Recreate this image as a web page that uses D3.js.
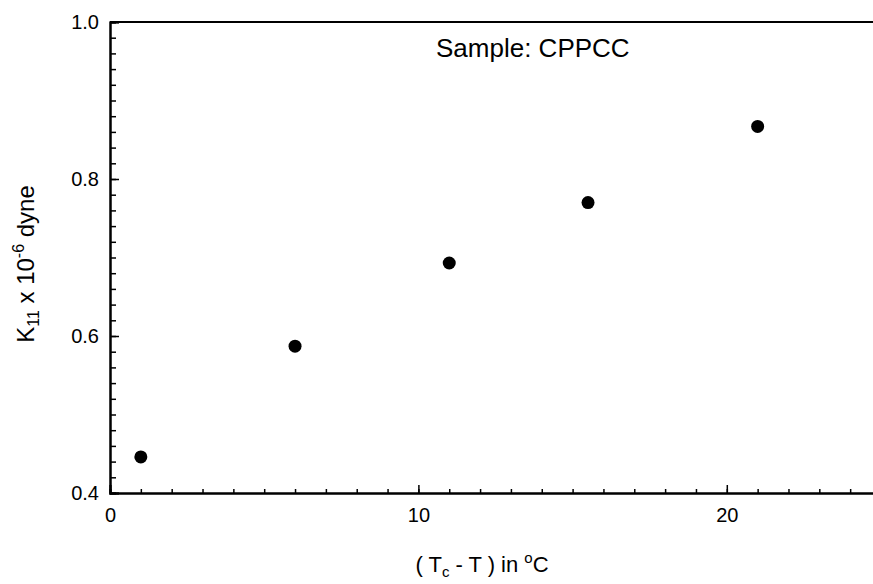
<!DOCTYPE html>
<html>
<head>
<meta charset="utf-8">
<script src="https://cdn.jsdelivr.net/npm/d3@7"></script>
<style>
	body { margin: 0; background: #fff; }
	text { font-family: "Liberation Sans", Arial, sans-serif; fill: #000; }
</style>
</head>
<body>
<div id="chart"></div>
<script>

// data
const temp_diff = [1, 6, 11, 15.5, 21]
const k11 = [0.446, 0.587, 0.693, 0.770, 0.867]

const x_ticks = [0, 10, 20]
const x_minor = d3.range(0, 26, 1)
const y_ticks = [0.4, 0.6, 0.8, 1.0]
const y_minor = d3.range(0.40, 1.001, 0.02)

const width = 873, height = 584

const svg = d3.select("#chart").append("svg")
	.attr("width", width)
	.attr("height", height)

// scales (right end of the frame runs off the picture)
const x = d3.scaleLinear()
	.domain([0, 25])
	.range([110, 881])

const y = d3.scaleLinear()
	.domain([0.4, 1.0])
	.range([493, 22])

// minor ticks first, then major ticks with labels
svg.append("g")
	.attr("transform", "translate(0," + y(0.4) + ")")
	.call(d3.axisBottom(x).tickValues(x_minor).tickSize(-4).tickFormat(""))
svg.append("g")
	.attr("class", "x-axis")
	.attr("transform", "translate(0," + y(0.4) + ")")
	.call(d3.axisBottom(x).tickValues(x_ticks).tickSize(-8).tickPadding(15).tickFormat(d3.format("d")))

svg.append("g")
	.attr("transform", "translate(" + x(0) + ",0)")
	.call(d3.axisLeft(y).tickValues(y_minor).tickSize(-6).tickFormat(""))
svg.append("g")
	.attr("class", "y-axis")
	.attr("transform", "translate(" + x(0) + ",0)")
	.call(d3.axisLeft(y).tickValues(y_ticks).tickSize(-9).tickPadding(11).tickFormat(d3.format(".1f")))

svg.selectAll(".domain").attr("stroke-width", 2)
svg.selectAll(".tick line").attr("stroke-width", 1.5)
svg.selectAll(".tick text").style("font-size", "20px").attr("font-family", null)

// top border
svg.append("path")
	.attr("d", `M${x(0)},${y(1.0)} H${width}`)
	.attr("stroke", "#000")
	.attr("stroke-width", 2)

// points
svg.append("g")
	.selectAll("circle")
	.data(temp_diff)
	.enter()
	.append("circle")
		.attr("cx", d => x(d))
		.attr("cy", (d, i) => y(k11[i]))
		.attr("r", 6.5)
		.attr("fill", "#000")

// sample label
svg.append("text")
	.attr("x", 436)
	.attr("y", 57)
	.style("font-size", "26px")
	.text("Sample: CPPCC")

// x axis title
const xlab = svg.append("text")
	.attr("text-anchor", "middle")
	.attr("x", 482)
	.attr("y", 572)
	.style("font-size", "22px")
xlab.append("tspan").text("( T")
xlab.append("tspan").attr("dy", 5).style("font-size", "15px").text("c")
xlab.append("tspan").attr("dy", -5).text(" - T ) in ")
xlab.append("tspan").attr("dy", -9).style("font-size", "15px").text("o")
xlab.append("tspan").attr("dy", 9).text("C")

// y axis title
const ylab = svg.append("text")
	.attr("text-anchor", "middle")
	.attr("transform", "translate(34,264) rotate(-90)")
	.style("font-size", "24px")
ylab.append("tspan").text("K")
ylab.append("tspan").attr("dy", 5).style("font-size", "16px").text("11")
ylab.append("tspan").attr("dy", -5).text(" x 10")
ylab.append("tspan").attr("dy", -10).style("font-size", "16px").text("-6")
ylab.append("tspan").attr("dy", 10).text(" dyne")

</script>
</body>
</html>
